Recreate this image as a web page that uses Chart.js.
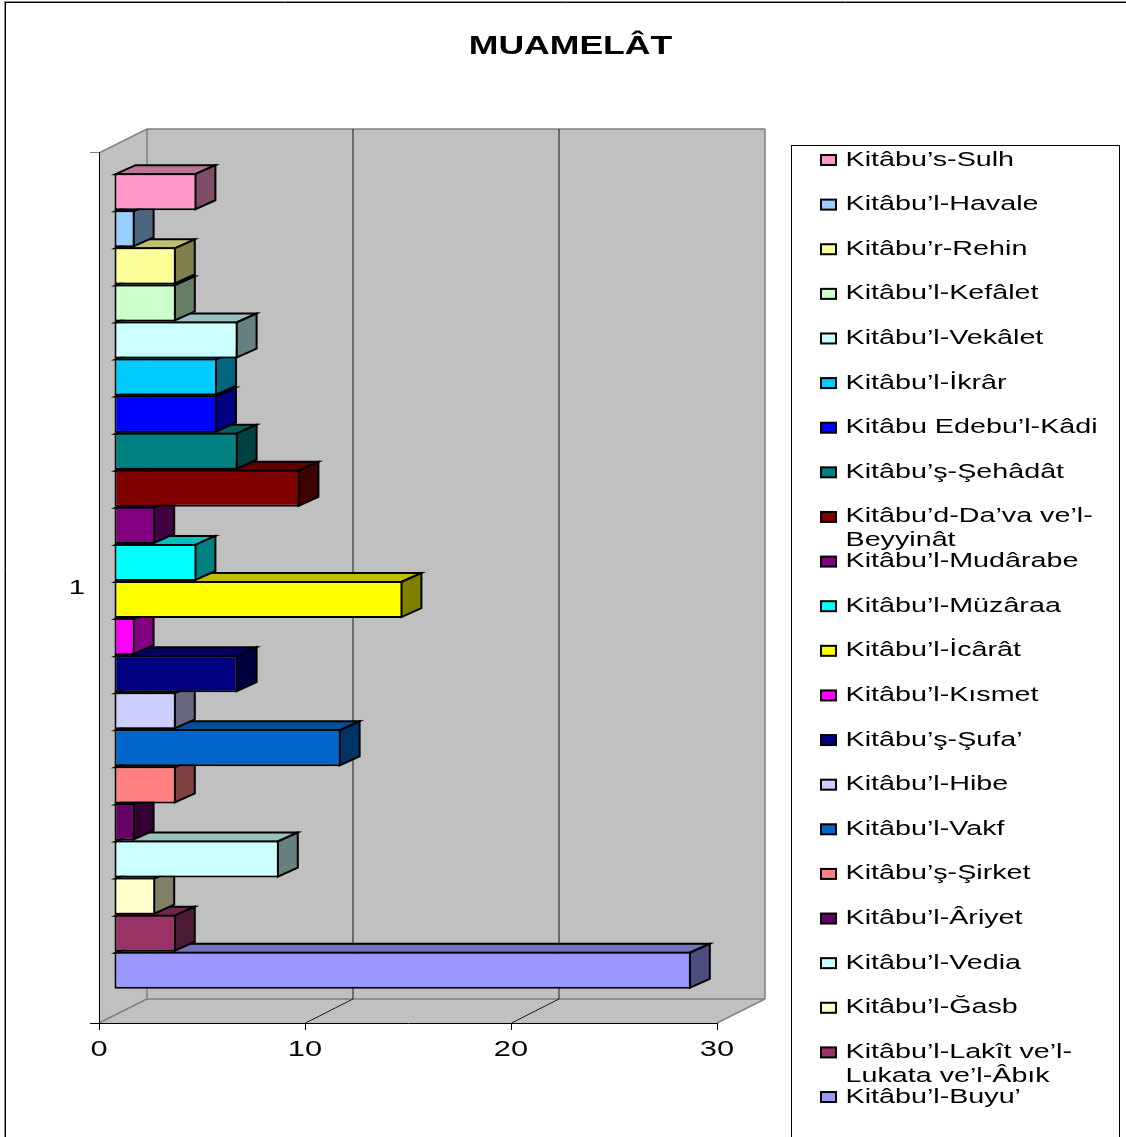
<!DOCTYPE html>
<html>
<head>
<meta charset="utf-8">
<style>html,body{margin:0;padding:0;background:#fff;overflow:hidden}canvas{display:block}</style>
<script src="https://cdn.jsdelivr.net/npm/chart.js@4"></script>
</head>
<body>
<canvas id="c" width="1126" height="1137" style="width:1126px;height:1137px"></canvas>
<script>
const titleText = "MUAMELÂT";
const categories = ["1"];
const seriesNames = [
  ["Kitâbu’s-Sulh"],["Kitâbu’l-Havale"],["Kitâbu’r-Rehin"],["Kitâbu’l-Kefâlet"],["Kitâbu’l-Vekâlet"],
  ["Kitâbu’l-İkrâr"],["Kitâbu Edebu’l-Kâdi"],["Kitâbu’ş-Şehâdât"],["Kitâbu’d-Da’va ve’l-","Beyyinât"],
  ["Kitâbu’l-Mudârabe"],["Kitâbu’l-Müzâraa"],["Kitâbu’l-İcârât"],["Kitâbu’l-Kısmet"],["Kitâbu’ş-Şufa’"],
  ["Kitâbu’l-Hibe"],["Kitâbu’l-Vakf"],["Kitâbu’ş-Şirket"],["Kitâbu’l-Âriyet"],["Kitâbu’l-Vedia"],
  ["Kitâbu’l-Ğasb"],["Kitâbu’l-Lakît ve’l-","Lukata ve’l-Âbık"],["Kitâbu’l-Buyu’"]
];
const seriesValues = [4,1,3,3,6,5,5,6,9,2,4,14,1,6,3,11,3,1,8,2,3,28];
const seriesColors = ["#FF99CC","#99CCFF","#FFFF99","#CCFFCC","#CCFFFF","#00CCFF","#0000FF","#008080","#800000","#800080","#00FFFF","#FFFF00","#FF00FF","#000080","#CCCCFF","#0066CC","#FF8080","#660066","#CCFFFF","#FFFFCC","#993366","#9999FF"];
const xTicks = [0,10,20,30];

const STRETCH = 1.4;           // the reference's text is stretched sideways
const WALL = {dx:48, dy:-24};  // depth of the 3D box
const BAR = {sx:15, sy:-7, dx:20, dy:-9};

function shade(hex,f){
  const n=parseInt(hex.slice(1),16);
  const c=[(n>>16)&255,(n>>8)&255,n&255].map(v=>Math.round(v*f));
  return `rgb(${c[0]},${c[1]},${c[2]})`;
}
function poly(ctx,pts,fill,stroke,lw){
  ctx.beginPath();
  pts.forEach((p,i)=>i?ctx.lineTo(p[0],p[1]):ctx.moveTo(p[0],p[1]));
  ctx.closePath();
  if(fill){ctx.fillStyle=fill;ctx.fill();}
  if(stroke){ctx.strokeStyle=stroke;ctx.lineWidth=lw;ctx.lineJoin='miter';ctx.stroke();}
}
function seg(ctx,x1,y1,x2,y2,col,lw){
  ctx.beginPath();ctx.moveTo(x1,y1);ctx.lineTo(x2,y2);ctx.strokeStyle=col;ctx.lineWidth=lw;ctx.stroke();
}

const box3d = {
  id:'box3d',
  beforeInit(chart){
    const ctx=chart.ctx, orig=ctx.fillText.bind(ctx);
    ctx.fillText=function(t,x,y,m){
      ctx.save();ctx.scale(STRETCH,1);
      if(m===undefined)orig(t,x/STRETCH,y);else orig(t,x/STRETCH,y,m/STRETCH);
      ctx.restore();
    };
  },
  afterLayout(chart){
    const c=(chart.titleBlock.left+chart.titleBlock.right)/2, shift=570.5-c;
    chart.titleBlock.left+=shift;chart.titleBlock.right+=shift;
  },
  beforeDraw(chart){
    const ctx=chart.ctx,{left,right,top,bottom}=chart.chartArea,x=chart.scales.x;
    const bl=left+WALL.dx,br=right+WALL.dx,bt=top+WALL.dy,bb=bottom+WALL.dy;
    ctx.save();
    ctx.fillStyle='#fff';ctx.fillRect(0,0,chart.width,chart.height);
    // page frame
    seg(ctx,4.5,1,4.5,chart.height,'#8a8a8a',1);
    seg(ctx,5.5,2,5.5,chart.height,'#000',1);
    seg(ctx,4,1.5,chart.width,1.5,'#8a8a8a',1);
    seg(ctx,5,2.5,chart.width,2.5,'#000',1);
    // walls
    poly(ctx,[[bl,bt],[br,bt],[br,bb],[bl,bb]],'#C0C0C0');
    poly(ctx,[[left,top],[bl,bt],[bl,bb],[left,bottom]],'#C0C0C0');
    poly(ctx,[[left,bottom],[bl,bb],[br,bb],[right,bottom]],'#C0C0C0');
    ctx.lineCap='butt';
    seg(ctx,left,top,bl,bt,'#808080',1.5);
    seg(ctx,bl,bt,br,bt,'#808080',1.5);
    seg(ctx,br,bt,br,bb,'#808080',1.5);
    seg(ctx,bl,bt,bl,bb,'#808080',1.5);
    seg(ctx,bl,bb,br,bb,'#808080',1.5);
    seg(ctx,left,bottom,bl,bb,'#808080',1.5);
    seg(ctx,right,bottom,br,bb,'#808080',1.5);
    // gridlines on back wall and floor
    xTicks.slice(1,-1).forEach(v=>{
      const p=Math.round(x.getPixelForValue(v))+0.5;
      seg(ctx,p+WALL.dx-0.5,bt,p+WALL.dx-0.5,bb,'#1a1a1a',1);
      seg(ctx,p,bottom,p+WALL.dx-0.5,bb,'#1a1a1a',1);
    });
    ctx.restore();
  },
  beforeDatasetDraw(chart,args){
    const ctx=chart.ctx,col=seriesColors[args.index];
    ctx.save();
    ctx.translate(BAR.sx,BAR.sy);
    args.meta.data.forEach(b=>{
      const p=b.getProps(['x','y','base','height'],true);
      const t=p.y-p.height/2+1,bo=p.y+p.height/2-1,l=p.base+1,r=p.x-1;
      poly(ctx,[[l,t],[r,t],[r+BAR.dx,t+BAR.dy],[l+BAR.dx,t+BAR.dy]],shade(col,0.75),'#000',2);
      poly(ctx,[[r,t],[r+BAR.dx,t+BAR.dy],[r+BAR.dx,bo+BAR.dy],[r,bo]],shade(col,0.5),'#000',2);
    });
  },
  afterDatasetDraw(chart){
    chart.ctx.restore();
  },
  afterDraw(chart){
    const ctx=chart.ctx;
    ctx.save();
    // legend frame
    seg(ctx,791.5,145,791.5,chart.height,'#000',1);
    seg(ctx,791,145.5,1120,145.5,'#000',1);
    seg(ctx,1119.5,145,1119.5,chart.height,'#000',1);
    // legend entries
    ctx.font='20.5px "Liberation Sans", Arial, sans-serif';
    ctx.textAlign='left';ctx.textBaseline='alphabetic';
    chart.data.datasets.forEach((d,i)=>{
      const top=155+44.62*i;
      ctx.fillStyle=d.backgroundColor;ctx.strokeStyle='#000';ctx.lineWidth=2;
      ctx.fillRect(821,top,15,10);ctx.strokeRect(821,top,15,10);
      ctx.fillStyle='#000';
      d.lines.forEach((ln,k)=>ctx.fillText(ln,845.5,top+10.5+k*24));
    });
    ctx.restore();
  }
};

const datasets = seriesNames.map((lines,i)=>({
  label:lines.join(' '),
  lines:lines,
  data:[seriesValues[i]],
  backgroundColor:seriesColors[i],
  borderColor:'#000',
  borderWidth:2,
  borderSkipped:false,
  clip:false
}));

new Chart(document.getElementById('c'),{
  type:'bar',
  data:{labels:categories,datasets},
  plugins:[box3d],
  options:{
    indexAxis:'y',
    responsive:false,
    animation:false,
    categoryPercentage:0.9375,
    barPercentage:1,
    layout:{padding:{top:12,left:0,right:409,bottom:0}},
    plugins:{
      legend:{display:false},
      tooltip:{enabled:false},
      title:{display:true,text:titleText,color:'#000',
        font:{family:'"Liberation Sans", Arial, sans-serif',size:25.4,weight:'bold',lineHeight:1.2},
        padding:{top:20,bottom:90.5}}
    },
    scales:{
      x:{
        type:'linear',min:0,max:30,
        afterFit(s){s.height=114;},
        afterBuildTicks(s){s.ticks=xTicks.map(v=>({value:v}));},
        border:{color:'#000',width:1},
        grid:{drawOnChartArea:false,drawTicks:true,tickLength:7,color:'#000'},
        ticks:{color:'#000',maxRotation:0,autoSkip:false,padding:7,font:{family:'"Liberation Sans", Arial, sans-serif',size:22}}
      },
      y:{
        type:'category',
        afterFit(s){s.width=99;},
        border:{color:'#000',width:1},
        grid:{drawOnChartArea:false,drawTicks:true,tickLength:9,offset:true,color:c=>c.index===0?'#808080':'#000'},
        ticks:{color:'#000',padding:5,font:{family:'"Liberation Sans", Arial, sans-serif',size:21}}
      }
    }
  }
});
</script>
</body>
</html>
